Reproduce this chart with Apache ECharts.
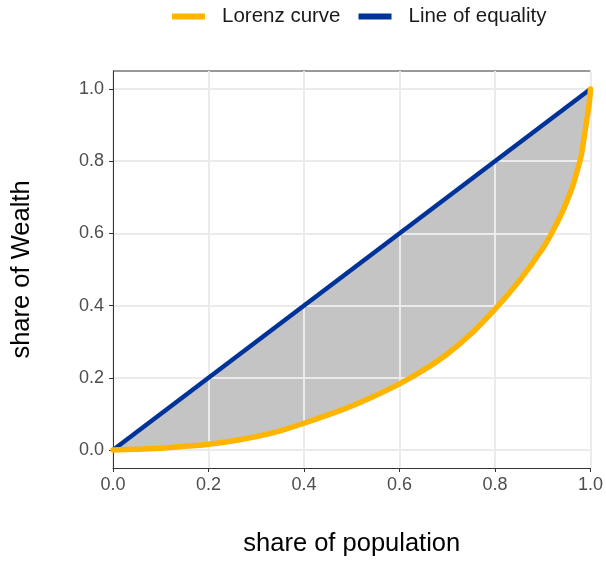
<!DOCTYPE html>
<html>
<head>
<meta charset="utf-8">
<script src="https://cdn.jsdelivr.net/npm/echarts@6/dist/echarts.min.js"></script>
<style>html,body{margin:0;padding:0;background:#fff}#c{width:606px;height:562px}</style>
</head>
<body>
<div id="c"></div>
<script>
// Data
var population = [0, 0.05, 0.1, 0.15, 0.2, 0.25, 0.3, 0.35, 0.4, 0.45, 0.5, 0.55, 0.6, 0.65, 0.7, 0.75, 0.8, 0.85, 0.9, 0.92, 0.94, 0.96, 0.97, 0.98, 0.985, 0.99, 0.995, 0.998, 1];
var wealth = [0, 0.002, 0.005, 0.010, 0.016, 0.025, 0.037, 0.053, 0.074, 0.097, 0.122, 0.151, 0.183, 0.221, 0.266, 0.322, 0.390, 0.467, 0.558, 0.604, 0.656, 0.721, 0.763, 0.812, 0.850, 0.895, 0.938, 0.966, 1.0];
var equalityX = [0, 1];
var equalityY = [0, 1];
var tickValues = [0, 0.2, 0.4, 0.6, 0.8, 1.0];
var seriesNames = ['Lorenz curve', 'Line of equality'];

var FONT = 'Liberation Sans';
var lorenzPts = population.map(function (x, i) { return [x, wealth[i]]; });
var eqPts = equalityX.map(function (x, i) { return [x, equalityY[i]]; });
var SMOOTH = 0.2;

var chart = echarts.init(document.getElementById('c'));
chart.setOption({
  animation: false,
  backgroundColor: '#fff',
  textStyle: { fontFamily: FONT },
  legend: {
    data: seriesNames,
    left: 167, top: 1,
    itemWidth: 33, itemHeight: 6, itemGap: 18,
    icon: 'rect',
    textStyle: { fontSize: 20.5, color: '#1a1a1a', fontFamily: FONT, padding: [0, 0, 0, 12] }
  },
  grid: { left: 113, right: 13, top: 71, bottom: 94, show: true, borderColor: '#333', borderWidth: 1, backgroundColor: 'transparent' },
  xAxis: {
    type: 'value', min: 0, max: 1, interval: 0.2, z: 2,
    name: 'share of population', nameLocation: 'middle', nameGap: 63,
    nameTextStyle: { fontSize: 25.5, color: '#000', fontFamily: FONT },
    axisLine: { show: true, onZero: false, lineStyle: { color: '#333', width: 1 } },
    axisTick: { show: true, length: 4, lineStyle: { color: '#333', width: 1 } },
    axisLabel: { fontSize: 18, color: '#4d4d4d', margin: 8, formatter: function (v) { return v.toFixed(1); } },
    splitLine: { show: true, lineStyle: { color: '#ebebeb', width: 2 } }
  },
  yAxis: {
    type: 'value', min: -0.05, max: 1.05, z: 2,
    name: 'share of Wealth', nameLocation: 'middle', nameGap: 78,
    nameTextStyle: { fontSize: 25.5, color: '#000', fontFamily: FONT },
    axisLine: { show: true, onZero: false, lineStyle: { color: '#333', width: 1 } },
    axisTick: { show: true, length: 4, customValues: tickValues, lineStyle: { color: '#333', width: 1 } },
    axisLabel: { fontSize: 18, color: '#4d4d4d', margin: 9, customValues: tickValues, formatter: function (v) { return v.toFixed(1); } },
    splitLine: { show: true, lineStyle: { color: '#ebebeb', width: 2 } }
  },
  series: [
    { name: 'eqArea', type: 'line', data: eqPts, symbol: 'none', lineStyle: { opacity: 0 }, areaStyle: { color: '#c4c4c4', opacity: 1, origin: 'start' }, z: 1, silent: true },
    { name: 'lorenzArea', type: 'line', data: lorenzPts, smooth: SMOOTH, symbol: 'none', lineStyle: { opacity: 0 }, areaStyle: { color: '#ffffff', opacity: 1, origin: 'start' }, z: 1, silent: true },
    { name: seriesNames[1], type: 'line', data: eqPts, symbol: 'none', color: '#003399', lineStyle: { color: '#003399', width: 4.5 }, z: 3 },
    { name: seriesNames[0], type: 'line', data: lorenzPts, smooth: SMOOTH, symbol: 'none', color: '#ffb400', lineStyle: { color: '#ffb400', width: 5.5, cap: 'round', join: 'round' }, z: 4 }
  ]
});
</script>
</body>
</html>
